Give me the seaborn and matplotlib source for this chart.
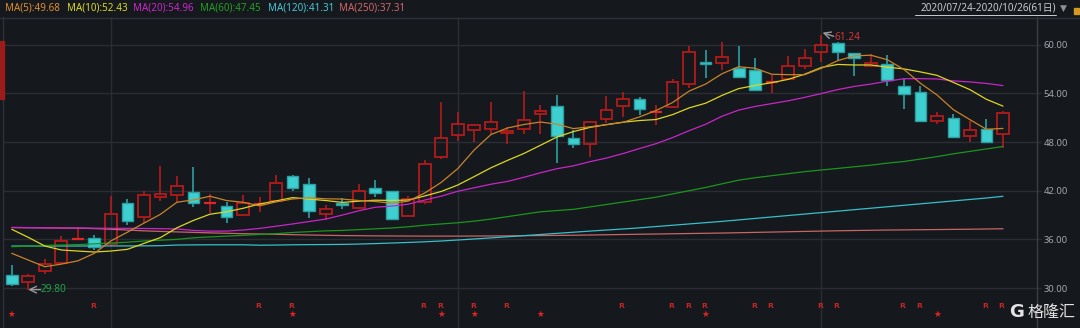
import numpy as np
import pandas as pd
import matplotlib
matplotlib.use("Agg")
import matplotlib.pyplot as plt
import seaborn as sns
from matplotlib.patches import Rectangle
from matplotlib.lines import Line2D

# ---- daily prices, 2020/07/24 - 2020/10/26 (61 sessions) ----
opens = [31.57, 30.70, 32.06, 33.12, 36.02, 36.13, 35.39, 40.44, 38.72, 41.18,
         41.51, 41.84, 40.50, 40.11, 38.96, 40.32, 40.77, 43.77, 42.86, 39.16,
         40.52, 39.83, 42.33, 42.00, 38.83, 40.64, 46.19, 48.83, 49.45, 49.57,
         49.08, 49.57, 51.45, 52.40, 48.54, 47.72, 50.84, 52.48, 53.31, 51.62,
         52.28, 55.11, 57.87, 57.74, 57.17, 56.88, 55.32, 55.77, 57.33, 59.06,
         60.21, 58.98, 57.33, 57.66, 54.95, 54.21, 50.63, 50.96, 48.71, 49.57,
         48.95]
highs = [32.80, 31.73, 33.61, 36.41, 37.48, 36.50, 41.34, 40.94, 41.92, 45.04,
         43.81, 44.92, 41.63, 40.64, 41.43, 41.18, 43.90, 43.90, 43.56, 40.27,
         41.13, 42.79, 43.28, 42.00, 41.34, 45.78, 52.93, 51.74, 50.22, 52.93,
         49.82, 54.29, 52.52, 53.80, 49.48, 50.60, 53.72, 54.21, 53.51, 52.52,
         55.81, 59.88, 59.35, 60.33, 59.80, 58.32, 56.26, 58.57, 59.51, 61.24,
         60.30, 59.00, 58.85, 58.69, 55.77, 54.87, 51.66, 51.49, 50.63, 50.88,
         51.82]
lows = [30.28, 29.80, 31.73, 33.00, 35.95, 34.69, 35.20, 37.81, 38.05, 40.77,
        40.52, 40.03, 39.29, 38.05, 38.90, 39.33, 40.70, 42.00, 38.67, 38.38,
        39.74, 39.75, 41.26, 38.38, 38.70, 40.32, 45.87, 48.17, 47.96, 48.95,
        47.79, 49.03, 49.03, 45.37, 47.22, 46.19, 50.38, 51.08, 51.33, 50.10,
        52.20, 54.62, 55.93, 56.84, 56.00, 54.35, 54.08, 55.70, 57.04, 57.83,
        58.15, 56.18, 57.20, 54.87, 52.03, 50.55, 50.22, 48.50, 47.96, 48.00,
        47.30]
closes = [30.46, 31.44, 32.92, 35.83, 36.10, 35.09, 39.09, 38.30, 41.43, 41.55,
          42.54, 40.52, 40.55, 38.80, 40.44, 40.40, 42.91, 42.37, 39.54, 39.78,
          40.27, 42.00, 41.75, 38.51, 41.01, 45.33, 48.54, 50.26, 50.06, 50.43,
          49.36, 50.68, 51.82, 48.71, 47.72, 50.47, 51.99, 53.27, 52.03, 51.70,
          55.36, 59.06, 57.58, 58.44, 56.02, 54.38, 55.40, 57.33, 58.40, 59.92,
          59.14, 58.36, 57.74, 55.61, 53.96, 50.63, 51.17, 48.58, 49.44, 48.04,
          51.54]

# ---- moving averages ----
ma5 = [34.28, 33.45, 32.63, 32.95, 33.35, 34.28, 35.81, 36.88, 38.00, 39.09,
       40.58, 40.87, 41.32, 40.79, 40.57, 40.14, 40.62, 40.98, 41.13, 41.00,
       40.97, 40.79, 40.67, 40.46, 40.71, 41.72, 43.03, 44.73, 47.04, 48.92,
       49.73, 50.16, 50.47, 50.20, 49.66, 49.88, 50.14, 50.43, 51.10, 51.89,
       52.87, 54.28, 55.15, 56.43, 57.29, 57.10, 56.36, 56.31, 56.31, 57.09,
       58.04, 58.63, 58.71, 58.15, 56.96, 55.26, 53.82, 51.99, 50.76, 49.57,
       49.68]
ma10 = [37.24, 36.25, 35.18, 34.69, 34.56, 34.44, 34.56, 34.77, 35.50, 36.22,
        37.43, 38.34, 39.10, 39.40, 39.83, 40.36, 40.74, 41.15, 40.96, 40.79,
        40.56, 40.71, 40.83, 40.80, 40.85, 41.35, 41.91, 42.70, 43.75, 44.82,
        45.73, 46.59, 47.60, 48.62, 49.29, 49.81, 50.15, 50.45, 50.65, 50.78,
        51.38, 52.21, 52.79, 53.76, 54.59, 54.98, 55.32, 55.73, 56.37, 57.19,
        57.57, 57.50, 57.51, 57.23, 57.02, 56.65, 56.23, 55.35, 54.46, 53.27,
        52.43]
ma20 = [37.48, 37.45, 37.42, 37.40, 37.40, 37.38, 37.36, 37.36, 37.34, 37.32,
        37.28, 37.10, 37.02, 37.02, 37.15, 37.35, 37.62, 37.90, 38.20, 38.50,
        38.99, 39.52, 39.96, 40.10, 40.34, 40.85, 41.33, 41.93, 42.36, 42.80,
        43.14, 43.65, 44.21, 44.71, 45.07, 45.58, 46.03, 46.58, 47.20, 47.80,
        48.55, 49.40, 50.19, 51.19, 51.94, 52.39, 52.74, 53.09, 53.51, 53.98,
        54.47, 54.86, 55.15, 55.50, 55.81, 55.82, 55.78, 55.54, 55.41, 55.23,
        54.96]
ma60 = [35.10, 35.15, 35.25, 35.30, 35.35, 35.45, 35.55, 35.65, 35.80, 35.90,
        36.00, 36.20, 36.30, 36.40, 36.50, 36.60, 36.70, 36.85, 36.95, 37.05,
        37.10, 37.20, 37.30, 37.40, 37.55, 37.75, 37.90, 38.05, 38.25, 38.50,
        38.80, 39.10, 39.40, 39.55, 39.70, 40.00, 40.30, 40.60, 40.90, 41.20,
        41.60, 42.00, 42.40, 42.85, 43.30, 43.60, 43.85, 44.10, 44.35, 44.55,
        44.75, 44.95, 45.15, 45.40, 45.60, 45.90, 46.20, 46.55, 46.85, 47.15,
        47.45]
ma120 = [35.18, 35.18, 35.18, 35.18, 35.18, 35.18, 35.19, 35.19, 35.20, 35.22,
         35.30, 35.32, 35.33, 35.33, 35.33, 35.28, 35.30, 35.33, 35.35, 35.36,
         35.38, 35.42, 35.48, 35.55, 35.62, 35.70, 35.80, 35.92, 36.05, 36.18,
         36.32, 36.46, 36.60, 36.74, 36.88, 37.02, 37.15, 37.28, 37.42, 37.58,
         37.74, 37.90, 38.06, 38.22, 38.40, 38.58, 38.76, 38.94, 39.12, 39.30,
         39.48, 39.66, 39.84, 40.02, 40.20, 40.38, 40.56, 40.74, 40.92, 41.10,
         41.31]
ma250 = [37.45, 37.43, 37.42, 37.40, 37.38, 37.33, 37.25, 37.15, 37.05, 36.98,
         36.92, 36.86, 36.80, 36.75, 36.70, 36.66, 36.62, 36.58, 36.54, 36.50,
         36.47, 36.45, 36.43, 36.42, 36.41, 36.40, 36.40, 36.40, 36.41, 36.42,
         36.43, 36.45, 36.47, 36.49, 36.51, 36.54, 36.57, 36.60, 36.63, 36.66,
         36.69, 36.72, 36.75, 36.78, 36.82, 36.86, 36.90, 36.94, 36.98, 37.02,
         37.06, 37.09, 37.12, 37.15, 37.17, 37.19, 37.21, 37.23, 37.25, 37.28,
         37.31]

ma_names = ["MA(5)", "MA(10)", "MA(20)", "MA(60)", "MA(120)", "MA(250)"]
ma_colors = ["#c9832a", "#dcd622", "#c826c8", "#1c951c", "#38bfcb", "#c86666"]
ma_text_colors = ["#e08f2e", "#d9d921", "#cc28cc", "#22a022", "#46c6d6", "#d26666"]

price_ticks = [30, 36, 42, 48, 54, 60]
month_starts = [6, 27, 49]            # first sessions of Aug, Sep, Oct
r_marks = [5, 15, 17, 25, 26, 28, 30, 37, 40, 41, 42, 45, 46, 49, 50, 54, 55, 59, 60]
star_marks = [0, 17, 26, 28, 32, 42, 56]

BG = "#15181d"
GRID = "#2a2d33"
UP = "#b31b1b"
UP_FLAT = "#e02626"
DOWN_FILL = "#3ecfd0"
DOWN_EDGE = "#2c9fa2"

sns.set_theme(style="dark")
plt.rcParams["font.family"] = ["Noto Sans", "Noto Sans CJK SC", "DejaVu Sans"]

W, H = 1080, 328
fig = plt.figure(figsize=(W / 100, H / 100), dpi=100, facecolor=BG)

def fx(px):
    return px / W

def fy(py):
    return 1 - py / H

ax_left, ax_right, ax_top = 3, 1037, 17
ax = fig.add_axes([fx(ax_left), 0, fx(ax_right - ax_left), 1 - ax_top / H])
ax.set_facecolor(BG)
ax.set_xlim(-0.53, 62.06)
ax.set_ylim(25.07, 63.42)

# grid
for t in price_ticks:
    ax.axhline(t, color=GRID, lw=1.0, zorder=0)
for m in month_starts:
    ax.axvline(m, color=GRID, lw=1.0, zorder=0)

# candles
n = len(closes)
idx = np.arange(n)
body_w = 0.71
for i in range(n):
    o, h, l, c = opens[i], highs[i], lows[i], closes[i]
    top, bot = max(o, c), min(o, c)
    if c >= o:
        if top - bot < 0.12:
            ax.vlines(i, l, h, color=UP, lw=1.2, zorder=2)
            ax.hlines((o + c) / 2, i - body_w / 2, i + body_w / 2,
                      color=UP_FLAT, lw=1.6, zorder=3)
        else:
            ax.vlines(i, top, h, color=UP, lw=1.2, zorder=2)
            ax.vlines(i, l, bot, color=UP, lw=1.2, zorder=2)
            ax.add_patch(Rectangle((i - body_w / 2, bot), body_w, top - bot,
                                   facecolor="none", edgecolor=UP, lw=1.3, zorder=3))
    else:
        ax.vlines(i, l, h, color=DOWN_EDGE, lw=1.2, zorder=2)
        ax.add_patch(Rectangle((i - body_w / 2, bot), body_w, top - bot,
                               facecolor=DOWN_FILL, edgecolor=DOWN_EDGE, lw=1.0, zorder=3))

# moving average lines
ma_df = pd.DataFrame({
    "idx": np.tile(idx, 6),
    "value": np.concatenate([ma250, ma120, ma60, ma20, ma10, ma5]),
    "line": np.repeat(["MA(250)", "MA(120)", "MA(60)", "MA(20)", "MA(10)", "MA(5)"], n),
})
palette = dict(zip(ma_names, ma_colors))
sns.lineplot(data=ma_df, x="idx", y="value", hue="line", palette=palette,
             legend=False, ax=ax, lw=0.9, zorder=4, estimator=None, sort=False)

# extreme price callouts
lo_i = int(np.argmin(lows))
hi_i = int(np.argmax(highs))
ax.annotate("", xy=(lo_i, lows[lo_i]), xytext=(lo_i + 0.75, lows[lo_i]),
            arrowprops=dict(arrowstyle="->", color="#9a9a9a", lw=1.0,
                            shrinkA=0, shrinkB=0), zorder=6)
ax.text(lo_i + 0.75, lows[lo_i], f"{lows[lo_i]:.2f}", color="#22a04a",
        fontsize=7.3, va="center", ha="left", zorder=6)
ax.annotate("", xy=(hi_i + 0.08, highs[hi_i] + 0.25),
            xytext=(hi_i + 0.75, highs[hi_i] - 0.2),
            arrowprops=dict(arrowstyle="->", color="#9a9a9a", lw=1.0,
                            shrinkA=0, shrinkB=0), zorder=6)
ax.text(hi_i + 0.8, highs[hi_i] - 0.4, f"{highs[hi_i]:.2f}", color="#d03636",
        fontsize=7.3, va="center", ha="left", zorder=6)

# event markers along the bottom
for i in r_marks:
    ax.text(i - 0.08, 27.78, "R", color="#c42626", fontsize=5.4, fontweight="bold",
            ha="center", va="center", family="DejaVu Sans")
for i in star_marks:
    ax.text(i, 26.74, "★", color="#e02424", fontsize=6.2,
            ha="center", va="center", family="DejaVu Sans")

# axes frame and right-hand price scale
ax.set_xlabel("")
ax.set_ylabel("")
ax.set_xticks([])
ax.set_yticks(price_ticks)
ax.set_yticklabels([f"{t:.2f}" for t in price_ticks])
ax.yaxis.tick_right()
ax.tick_params(axis="y", direction="out", length=3, width=1, color=GRID,
               pad=1.5, labelsize=6.8, labelcolor="#a2a7ae")
for side in ["top", "bottom"]:
    ax.spines[side].set_visible(False)
ax.spines["right"].set_color("#3a3d44")
ax.spines["right"].set_linewidth(1.0)
ax.spines["left"].set_color("#2e3138")
ax.spines["left"].set_linewidth(1.0)

# header strip
fig.add_artist(Line2D([0, 1], [fy(17.5), fy(17.5)], color="#2e3138", lw=1.0))
ma_values = [ma5[-1], ma10[-1], ma20[-1], ma60[-1], ma120[-1], ma250[-1]]
x_pos = [5, 66.5, 133, 200, 268, 339]
for name, val, col, xp in zip(ma_names, ma_values, ma_text_colors, x_pos):
    fig.text(fx(xp), fy(8.5), f"{name}:{val:.2f}", color=col, fontsize=7.1,
             ha="left", va="center")
fig.text(fx(1056), fy(8.5), "2020/07/24-2020/10/26(61日)", color="#c9ccd1",
         fontsize=7.1, ha="right", va="center")
fig.add_artist(Line2D([fx(915), fx(1056)], [fy(15), fy(15)], color="#c9ccd1", lw=0.7))
fig.text(fx(1063), fy(8.0), "▼", color="#8d9096", fontsize=6.5, ha="center",
         va="center", family="DejaVu Sans")
fig.add_artist(Rectangle((fx(1074), fy(14)), fx(5), 6 / H, color="#d49a22"))
fig.add_artist(Rectangle((0, fy(99)), fx(4), 58 / H, color="#9c1b1b"))

# brand mark
fig.text(fx(1017), fy(312), "G", color="#e4e4e4", fontsize=13, fontweight="bold",
         ha="center", va="center", family="DejaVu Sans")
fig.text(fx(1052), fy(312), "格隆汇", color="#e4e4e4", fontsize=11.5,
         ha="center", va="center", family=["Noto Sans CJK SC"])

fig.savefig("out.png", dpi=100, facecolor=BG)
